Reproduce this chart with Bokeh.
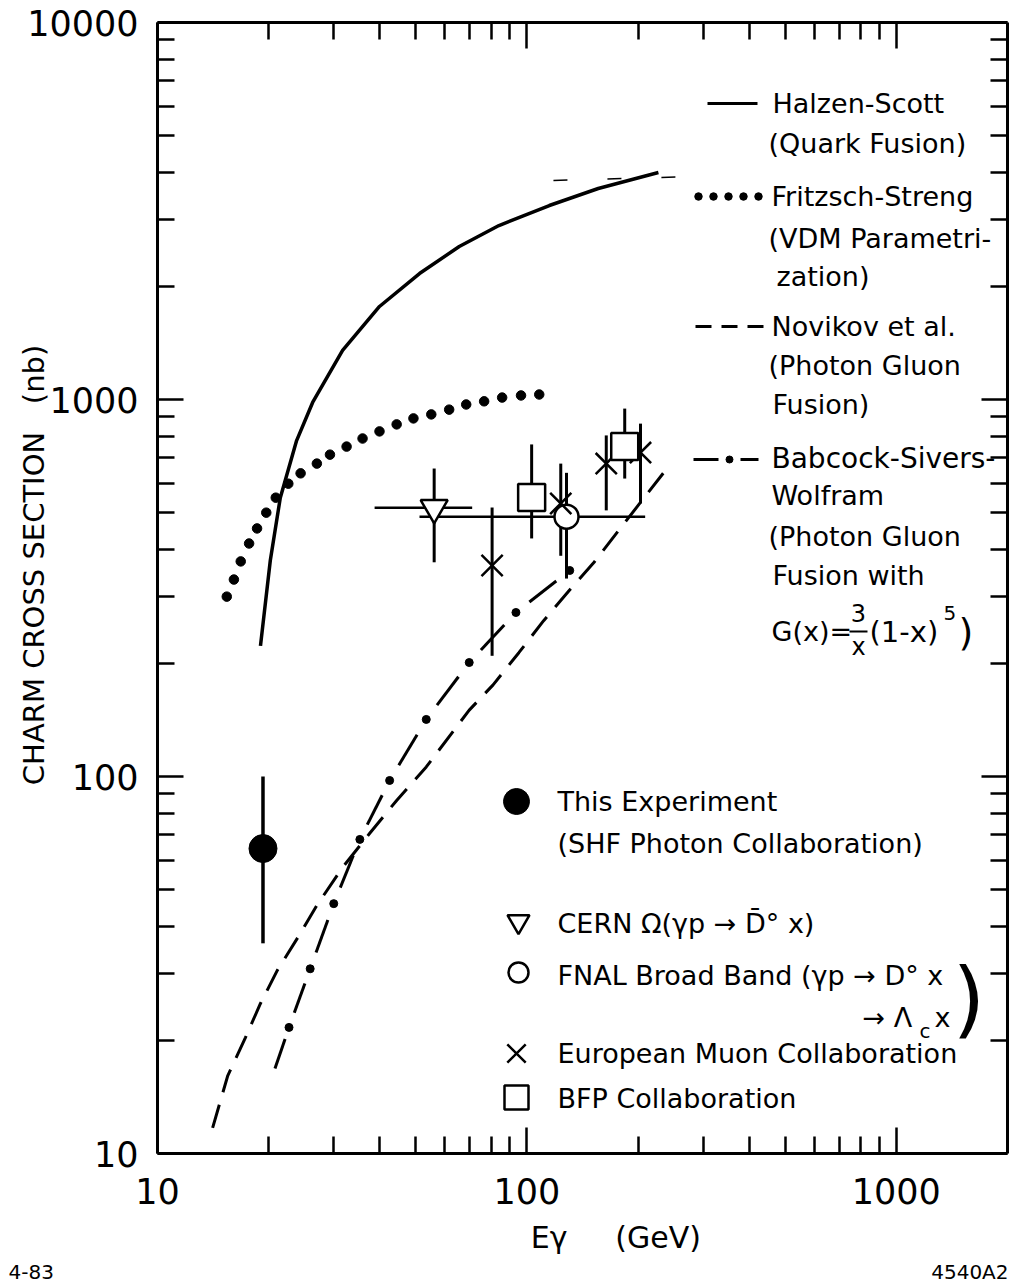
import numpy as np
from bokeh.plotting import figure
from bokeh.models import Label, FixedTicker, NumeralTickFormatter, LogAxis, Title
from bokeh.embed import file_html
from bokeh.resources import INLINE

# ---------------- data ----------------
# Halzen-Scott (Quark Fusion), solid curve
hs_x = [19.0, 20.2, 21.5, 23.8, 26.3, 31.7, 39.9, 51.2, 65.6, 84.0, 115, 156, 227]
hs_y = [222, 374, 549, 778, 982, 1349, 1765, 2158, 2546, 2894, 3270, 3628, 4000]
# faint dashed remnant beyond the solid curve
hs_ext_x = [118, 291]
hs_ext_y = [3811, 3908]

# Fritzsch-Streng (VDM), dotted curve (each dot)
fs_x = [15.4, 16.1, 16.8, 17.7, 18.6, 19.7, 20.9, 22.6, 24.4, 27.0, 29.3, 32.5,
        35.9, 39.9, 44.4, 49.3, 55.1, 61.6, 68.5, 76.6, 85.7, 96.4, 108]
fs_y = [300, 333, 372, 415, 455, 501, 549, 598, 637, 676, 714, 750,
        788, 823, 859, 891, 913, 940, 970, 989, 1012, 1025, 1031]

# Novikov et al., dashed curve
nov_x = [14.1, 15.5, 17.3, 19.0, 21.1, 23.9, 27.0, 31.7, 37.5, 44.4, 53.4, 69.8,
         81.0, 95.1, 111, 130, 152, 177, 202, 237]
nov_y = [11.7, 16.1, 20.3, 25.0, 30.6, 37.2, 45.5, 57.4, 70.6, 86.4, 106, 150,
         175, 213, 259, 311, 370, 449, 530, 648]

# Babcock-Sivers-Wolfram, dash-dot curve (start, then the dots)
bsw_x = [20.8, 22.7, 25.9, 30.0, 35.3, 42.5, 53.4, 69.8, 93.4, 130.6]
bsw_y = [16.8, 21.6, 30.9, 46.0, 68.1, 97.6, 141.7, 200.6, 272.3, 351.9]

# This experiment (SHF)
this_x = [19.3]
this_y = [64.4]
this_lo = [36.1]
this_hi = [100]

# CERN Omega
cern_x = [56.1]
cern_y = [516]
cern_lo = [370]
cern_hi = [656]
cern_xlo = [38.7]
cern_xhi = [71.1]

# FNAL Broad Band
fnal_x = [128]
fnal_y = [489]
fnal_lo = [335]
fnal_hi = [639]
fnal_xlo = [51.2]
fnal_xhi = [209]

# European Muon Collaboration
emc_x = [80.5, 123.5, 164, 203]
emc_y = [363, 530, 676, 723]
emc_lo = [209, 385, 508, 530]
emc_hi = [517, 676, 803, 863]

# BFP Collaboration
bfp_x = [103, 184]
bfp_y = [550, 750]
bfp_lo = [428, 617]
bfp_hi = [760, 946]

# axis ticks
x_major = [10, 100, 1000]
x_minor = [20, 30, 40, 50, 60, 70, 80, 90, 200, 300, 400, 500, 600, 700, 800, 900]
y_major = [10, 100, 1000, 10000]
y_minor = [20, 30, 40, 50, 60, 70, 80, 90, 200, 300, 400, 500, 600, 700, 800, 900,
           2000, 3000, 4000, 5000, 6000, 7000, 8000, 9000]

FONT = "DejaVu Sans"
NB = "\u00a0"

# ---------------- layout helpers (page pixels -> data) ----------------
FL, FT = 157.0, 22.0          # frame left / top on the page
XDEC, YDEC = 369.4, 377.0     # pixels per decade


def X(px):
    return 10 ** (1 + (px - FL) / XDEC)


def Y(py):
    return 10 ** (4 - (py - FT) / YDEC)


p = figure(width=1020, height=1284, x_axis_type="log", y_axis_type="log",
           x_range=(10, 2000), y_range=(10, 10000),
           min_border_left=157, min_border_right=13, min_border_top=22,
           min_border_bottom=131, output_backend="svg", toolbar_location=None)
p.grid.visible = False
p.outline_line_color = None
p.background_fill_color = "white"
p.border_fill_color = "white"


def style(ax, labels=True):
    ax.axis_line_width = 3
    ax.axis_line_color = "black"
    ax.major_tick_in = 26
    ax.major_tick_out = 0
    ax.minor_tick_in = 17
    ax.minor_tick_out = 0
    ax.major_tick_line_width = 2.5
    ax.minor_tick_line_width = 2.5
    ax.major_tick_line_color = "black"
    ax.minor_tick_line_color = "black"
    if labels:
        ax.major_label_text_font = FONT
        ax.major_label_text_font_size = "35px"
        ax.major_label_text_color = "black"
        ax.formatter = NumeralTickFormatter(format="0")
    else:
        ax.major_label_text_font_size = "1px"
        ax.major_label_text_color = None
        ax.major_label_standoff = 0


p.xaxis.ticker = FixedTicker(ticks=x_major, minor_ticks=x_minor)
p.yaxis.ticker = FixedTicker(ticks=y_major, minor_ticks=y_minor)
for ax in p.xaxis:
    style(ax)
    ax.major_label_standoff = 24
    ax.axis_label = NB * 7 + "E\u03b3" + NB * 5 + "(GeV)"
    ax.axis_label_text_font = FONT
    ax.axis_label_text_font_size = "30px"
    ax.axis_label_text_font_style = "normal"
    ax.axis_label_text_color = "black"
    ax.axis_label_standoff = 13
for ax in p.yaxis:
    style(ax)
    ax.major_label_standoff = 19
    ax.axis_label = NB * 5 + "CHARM CROSS SECTION" + NB * 3 + "(nb)"
    ax.axis_label_text_font = FONT
    ax.axis_label_text_font_size = "29px"
    ax.axis_label_text_font_style = "normal"
    ax.axis_label_text_color = "black"
    ax.axis_label_standoff = -27

top = LogAxis(ticker=FixedTicker(ticks=x_major, minor_ticks=x_minor))
style(top, labels=False)
p.add_layout(top, "above")
right = LogAxis(ticker=FixedTicker(ticks=y_major, minor_ticks=y_minor))
style(right, labels=False)
p.add_layout(right, "right")

# corner ids (left "4-83", right "4540A2") on one row
p.add_layout(Title(text="4-83" + NB * 138 + "4540A2", align="left", offset=-149, standoff=1,
                   text_font=FONT, text_font_size="20px", text_font_style="normal",
                   text_color="black"), "below")

# ---------------- curves ----------------
p.line(hs_x, hs_y, line_width=3.5, line_color="black")
p.line(hs_ext_x, hs_ext_y, line_width=1.5, line_color="black", line_dash="14 40")
p.scatter(fs_x, fs_y, marker="circle", size=9.5, fill_color="black", line_color="black")
p.line(nov_x, nov_y, line_width=3, line_color="black", line_dash="24 13")

lx = np.log10(bsw_x)
ly = np.log10(bsw_y)
x0s, y0s, x1s, y1s = [], [], [], []
for i in range(len(lx) - 1):
    a, b = (0.0, 0.72) if i == 0 else (0.25, 0.75)
    x0s.append(10 ** (lx[i] + a * (lx[i + 1] - lx[i])))
    y0s.append(10 ** (ly[i] + a * (ly[i + 1] - ly[i])))
    x1s.append(10 ** (lx[i] + b * (lx[i + 1] - lx[i])))
    y1s.append(10 ** (ly[i] + b * (ly[i + 1] - ly[i])))
p.segment(x0s, y0s, x1s, y1s, line_width=3, line_color="black")
p.scatter(bsw_x[1:], bsw_y[1:], marker="circle", size=8, fill_color="black", line_color="black")

# ---------------- data points ----------------
p.segment(this_x, this_lo, this_x, this_hi, line_width=3.5, line_color="black")
p.segment(cern_x, cern_lo, cern_x, cern_hi, line_width=3, line_color="black")
p.segment(cern_xlo, cern_y, cern_xhi, cern_y, line_width=2.5, line_color="black")
p.segment(fnal_x, fnal_lo, fnal_x, fnal_hi, line_width=3, line_color="black")
p.segment(fnal_xlo, fnal_y, fnal_xhi, fnal_y, line_width=2.5, line_color="black")
p.segment(emc_x, emc_lo, emc_x, emc_hi, line_width=3, line_color="black")
p.segment(bfp_x, bfp_lo, bfp_x, bfp_hi, line_width=3, line_color="black")

p.scatter(this_x, this_y, marker="circle", size=28, fill_color="black", line_color="black")
p.scatter(cern_x, cern_y, marker="inverted_triangle", size=27, fill_color="white",
          line_color="black", line_width=2.5)
p.scatter(fnal_x, fnal_y, marker="circle", size=24, fill_color="white",
          line_color="black", line_width=2.5)
p.scatter(emc_x, emc_y, marker="x", size=30, line_color="black", line_width=2.5)
p.scatter(bfp_x, bfp_y, marker="square", size=27, fill_color="white",
          line_color="black", line_width=2.5)

# ---------------- legend samples (upper right) ----------------
p.line([X(707), X(757)], [Y(103), Y(103)], line_width=3, line_color="black")
p.scatter([X(v) for v in (698, 713, 728, 743, 758)], [Y(196)] * 5, marker="circle",
          size=7.5, fill_color="black", line_color="black")
p.line([X(695), X(763)], [Y(326), Y(326)], line_width=3, line_color="black", line_dash="16 10")
p.line([X(693), X(718)], [Y(459), Y(459)], line_width=3, line_color="black")
p.scatter([X(729)], [Y(459)], marker="circle", size=7, fill_color="black", line_color="black")
p.line([X(740), X(758)], [Y(459), Y(459)], line_width=3, line_color="black")

# legend markers (lower)
p.scatter([X(516)], [Y(801)], marker="circle", size=26, fill_color="black", line_color="black")
p.scatter([X(518)], [Y(921)], marker="inverted_triangle", size=22, fill_color="white",
          line_color="black", line_width=2.5)
p.scatter([X(518)], [Y(972)], marker="circle", size=20, fill_color="white",
          line_color="black", line_width=2.5)
p.scatter([X(516)], [Y(1053)], marker="x", size=26, line_color="black", line_width=2.5)
p.scatter([X(516)], [Y(1097)], marker="square", size=24, fill_color="white",
          line_color="black", line_width=2.5)


def txt(s, px, py, size=27, align="left", angle=0.0, baseline="middle"):
    p.add_layout(Label(x=X(px), y=Y(py), text=s, text_font=FONT,
                       text_font_size=f"{size}px", text_align=align,
                       text_baseline=baseline, angle=angle, text_color="black"))


txt("Halzen-Scott", 772, 103)
txt("(Quark Fusion)", 768, 143)
txt("Fritzsch-Streng", 771, 196)
txt("(VDM Parametri-", 768, 238)
txt("zation)", 776, 276)
txt("Novikov et al.", 771, 326)
txt("(Photon Gluon", 768, 365)
txt("Fusion)", 772, 404)
txt("Babcock-Sivers-", 771, 458, size=28)
txt("Wolfram", 771, 495)
txt("(Photon Gluon", 768, 536)
txt("Fusion with", 772, 575)
txt("G(x)=", 771, 631)
txt("3", 858, 612, size=24, align="center")
p.line([X(849), X(867)], [Y(631), Y(631)], line_width=2, line_color="black")
txt("x", 858, 646, size=24, align="center")
txt("(1-x)", 869, 631, size=29)
txt("5", 943, 612, size=20)
txt(")", 958, 631, size=38)

txt("This Experiment", 557, 801)
txt("(SHF Photon Collaboration)", 557, 843)
txt("CERN \u03a9(\u03b3p \u2192 D\u0304\u00b0 x)", 557, 923)
txt("FNAL Broad Band (\u03b3p \u2192 D\u00b0 x", 557, 975)
txt("\u2192 \u039b", 862, 1017)
txt("c", 919, 1030, size=20)
txt("x", 934, 1017)
txt(")", 952, 998, size=84)
txt("European Muon Collaboration", 557, 1053)
txt("BFP Collaboration", 557, 1098)

open("out.html", "w").write(file_html(p, INLINE))
